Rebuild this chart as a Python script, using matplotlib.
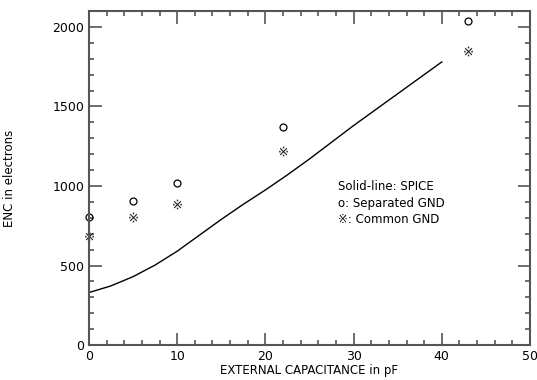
import matplotlib.pyplot as plt
from matplotlib.ticker import MultipleLocator

# SPICE simulation (solid line)
cap_spice = [0, 2.5, 5, 7.5, 10, 12.5, 15, 17.5, 20, 22.5, 25, 27.5, 30, 32.5, 35, 37.5, 40]
enc_spice = [330, 372, 430, 503, 590, 690, 790, 885, 975, 1070, 1170, 1275, 1380, 1480, 1580, 1680, 1780]

# measured points
cap_meas = [0, 5, 10, 22, 43]
enc_separated = [805, 905, 1020, 1372, 2040]
enc_common = [688, 805, 886, 1220, 1850]

fig = plt.figure(figsize=(5.37, 3.8), dpi=100)
ax = fig.add_axes([0.1657, 0.092, 0.8213, 0.879])

ax.plot(cap_spice, enc_spice, color='black', lw=1.0)
ax.plot(cap_meas, enc_separated, 'o', mfc='none', mec='black', ms=5, mew=0.9, clip_on=False)
ax.plot(cap_meas, enc_common, ls='none', marker='$\u203B$', color='#222222', ms=7, mew=0,
        clip_on=False)

ax.set_xlim(0, 50)
ax.set_ylim(0, 2100)
ax.xaxis.set_major_locator(MultipleLocator(10))
ax.xaxis.set_minor_locator(MultipleLocator(2))
ax.yaxis.set_major_locator(MultipleLocator(500))
ax.yaxis.set_minor_locator(MultipleLocator(100))
ax.tick_params(which='both', direction='in', top=True, right=True, color='#555555', width=1.2,
               labelsize=9)
ax.tick_params(which='major', length=9)
ax.tick_params(which='minor', length=3.6)
for s in ax.spines.values():
    s.set_linewidth(1.5)
    s.set_color('#555555')

ax.set_xlabel("EXTERNAL CAPACITANCE in pF", fontsize=8.5, labelpad=1)
ax.set_ylabel("ENC in electrons", fontsize=8.5, labelpad=26)

ax.text(0.565, 0.476, "Solid-line: SPICE", transform=ax.transAxes, fontsize=8.5, va='center')
ax.text(0.565, 0.425, "o: Separated GND", transform=ax.transAxes, fontsize=8.5, va='center')
ax.text(0.565, 0.376, "\u203B: Common GND", transform=ax.transAxes, fontsize=8.5, va='center')

fig.savefig("out.png", dpi=100)
